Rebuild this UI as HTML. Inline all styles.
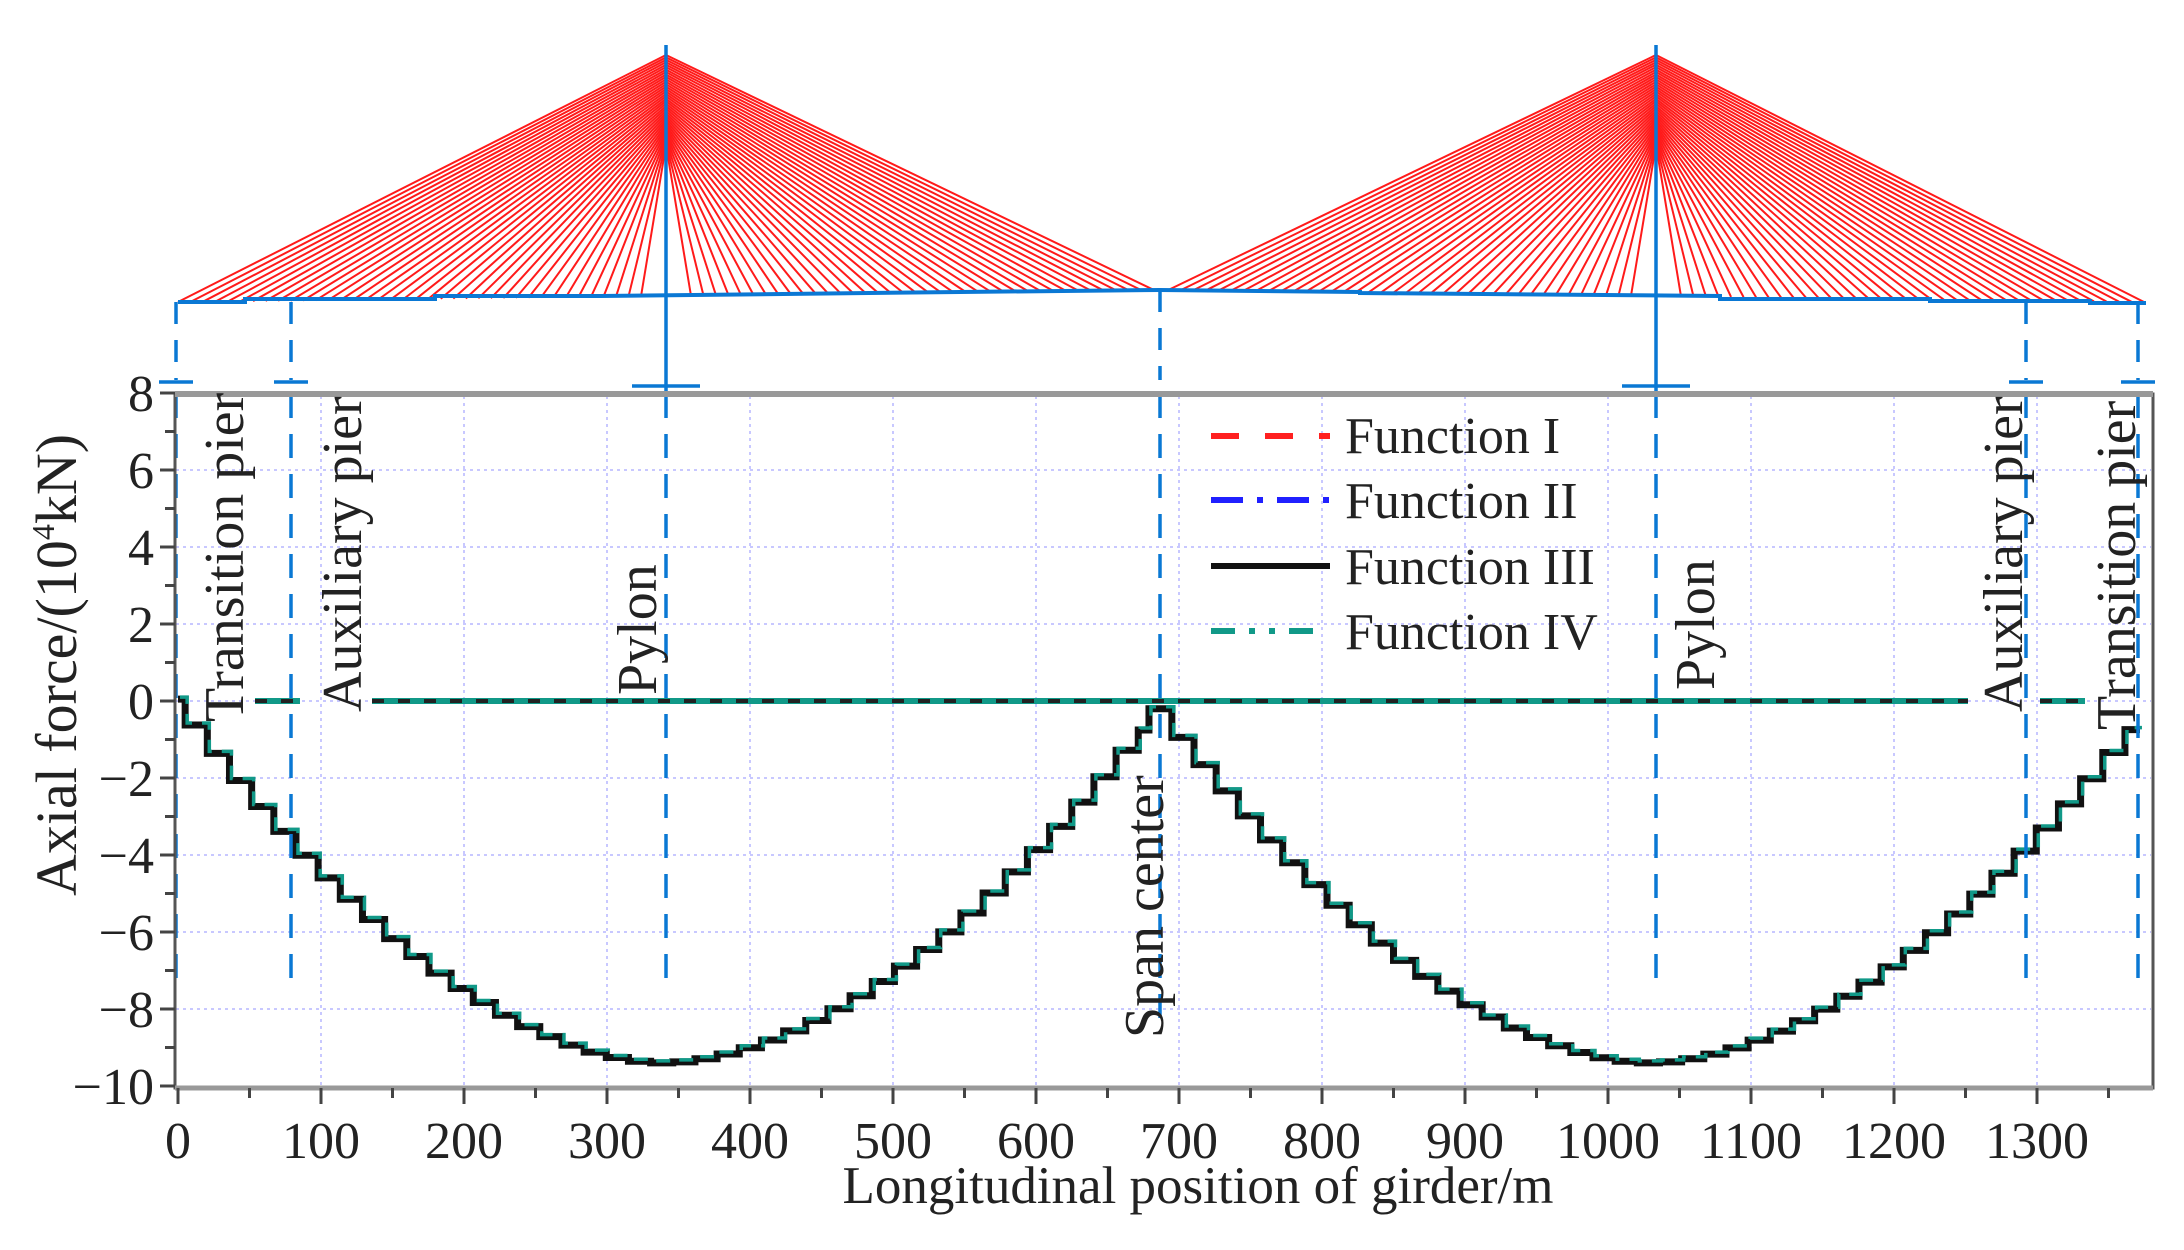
<!DOCTYPE html><html><head><meta charset="utf-8"><style>
html,body{margin:0;padding:0;background:#fff}
svg{display:block}
text{font-family:"Liberation Serif",serif;fill:#222}
</style></head><body>
<svg id="s" width="2184" height="1250" viewBox="0 0 2184 1250" xmlns="http://www.w3.org/2000/svg">
<g id="grid" stroke="#c8c8ff" stroke-width="2" stroke-dasharray="3,4"></g>
<g id="cables" stroke="#ff1a1a" stroke-width="2" fill="none"></g>
<g id="deck" stroke="#0a78d4" stroke-width="4" fill="none"></g>
<g id="curve"></g>
<g id="piers" stroke="#0a78d4" stroke-width="3.5" fill="none"></g>
<rect x="175" y="394" width="1978" height="694" fill="none" stroke="#555" stroke-width="3"/>
<line x1="175" y1="394" x2="2153" y2="394" stroke="#999" stroke-width="6"/>
<line x1="175" y1="1088" x2="2153" y2="1088" stroke="#999" stroke-width="5"/>
<g id="ticks" stroke="#444" stroke-width="3"></g>
<g id="labels" font-size="52"></g>
<g font-size="56">
<text transform="translate(243,722) rotate(-90)">Transition pier</text>
<text transform="translate(361,712) rotate(-90)">Auxiliary pier</text>
<text transform="translate(656,695) rotate(-90)">Pylon</text>
<text transform="translate(1163,1038) rotate(-90)">Span center</text>
<text transform="translate(1714,690) rotate(-90)">Pylon</text>
<text transform="translate(2022,712) rotate(-90)">Auxiliary pier</text>
<text transform="translate(2135,730) rotate(-90)">Transition pier</text>
</g>
<g font-size="52">
<line x1="1211" y1="436" x2="1330" y2="436" stroke="#ff2020" stroke-width="6" stroke-dasharray="28,26"/>
<line x1="1211" y1="500" x2="1330" y2="500" stroke="#2020ff" stroke-width="6" stroke-dasharray="32,14,6,14"/>
<line x1="1211" y1="566" x2="1330" y2="566" stroke="#111" stroke-width="6"/>
<line x1="1211" y1="631" x2="1318" y2="631" stroke="#119988" stroke-width="6" stroke-dasharray="24,14,6,14,6,14"/>
<text x="1345" y="453">Function I</text>
<text x="1345" y="518">Function II</text>
<text x="1345" y="584">Function III</text>
<text x="1345" y="649">Function IV</text>
</g>
<text x="1198" y="1203" font-size="53" text-anchor="middle">Longitudinal position of girder/m</text>
<text transform="translate(76,665) rotate(-90)" font-size="58" text-anchor="middle">Axial force/(10<tspan font-size="32" dy="-22">4</tspan><tspan dy="22">kN)</tspan></text>
</svg>
<script>
const NS="http://www.w3.org/2000/svg";
const X=m=>178+1.43*m, Y=v=>701-38.5*v;
function el(p,t,a){const e=document.createElementNS(NS,t);for(const k in a)e.setAttribute(k,a[k]);document.getElementById(p).appendChild(e);return e;}
for(let m=100;m<=1300;m+=100)el('grid','line',{x1:X(m),y1:396,x2:X(m),y2:1086});
for(let v=-8;v<=6;v+=2)el('grid','line',{x1:176,y1:Y(v),x2:2151,y2:Y(v)});
for(let m=0;m<=1350;m+=50){el('ticks','line',{x1:X(m),y1:1088,x2:X(m),y2:m%100?1098:1104});}
for(let m=0;m<=1300;m+=100){const t=el('labels','text',{x:X(m),y:1158,'text-anchor':'middle'});t.textContent=m;}
for(let v=-10;v<=8;v++){el('ticks','line',{x1:175,y1:Y(v),x2:v%2?165:160,y2:Y(v)});}
for(let v=-10;v<=8;v+=2){const t=el('labels','text',{x:154,y:Y(v)+18,'text-anchor':'end'});t.textContent=(v<0?'\u2212':'')+Math.abs(v);}
const deckY=x=>{const c=1160;return x<c?302-12*(x-178)/(c-178):290+12*(x-c)/(2146-c);};
let d='';
[[178,302],[245,302],[245,299],[435,299],[435,296],[600,296],[960,292],[1160,290],[1360,292],[1360,293],[1720,296],[1720,299],[1930,299],[1930,301],[2090,301],[2090,303],[2146,303]].forEach((p,i)=>d+=(i?'L':'M')+p[0]+','+p[1]);
el('deck','path',{d:d});
function fan(px){const n=38;
 for(let i=0;i<n;i++){const f=i/(n-1);
  const ay=55+f*90;
  const lx=px-488+f*(488-25), rx=px+488-f*(488-25);
  el('cables','line',{x1:px,y1:ay,x2:lx,y2:deckY(lx)});
  el('cables','line',{x1:px,y1:ay,x2:rx,y2:deckY(rx)});
 }}
fan(666);fan(1656);
function pier(x,top,bot,solid,notick){
 if(solid){el('piers','line',{x1:x,y1:45,x2:x,y2:394});}
 else el('piers','line',{x1:x,y1:top,x2:x,y2:380,'stroke-dasharray':'22,16'});
 el('piers','line',{x1:x,y1:394,x2:x,y2:bot,'stroke-dasharray':'24,16'});
 if(!notick){const w=solid?34:17; el('piers','line',{x1:x-w,y1:solid?386:382,x2:x+w,y2:solid?386:382});}
}
pier(176,302,985);pier(291,302,985);pier(666,0,985,true);pier(1160,290,1030,false,true);pier(1656,0,985,true);pier(2026,302,985);pier(2138,302,985);
const zs=[[255,300],[372,1968],[2040,2085]];
zs.forEach(s=>{el('curve','line',{x1:s[0],y1:701,x2:s[1],y2:701,stroke:'#119988','stroke-width':6});
 el('curve','line',{x1:s[0],y1:701,x2:s[1],y2:701,stroke:'#222','stroke-width':4,'stroke-dasharray':'12,14'});});
function val(m){
 const segs=[[0,340,0,-9.4],[340,687,-9.4,-0.2],[687,1030,-0.2,-9.4],[1030,1372,-9.4,-0.5]];
 for(const s of segs){if(m<=s[1]){const L=s[1]-s[0];
  if(s[3]<s[2]){const t=(m-s[0])/L;return s[2]+(s[3]-s[2])*(1-Math.pow(1-t,1.8));}
  else{const t=(s[1]-m)/L;return s[3]+(s[2]-s[3])*(1-Math.pow(1-t,1.8));}}}
 return -0.5;}
let p='M'+X(0)+','+Y(0.05)+'L'+X(5)+','+Y(0.05);
const st=15.5;
let edges=[5];
for(let m=5;m<679;m+=st)edges.push(m+st);
edges[edges.length-1]=679; edges.push(695);
for(let m=695;m<1372;m+=st)edges.push(Math.min(m+st,1372));
for(let i=0;i<edges.length-1;i++){
 const a=edges[i],b=edges[i+1];let v=val((a+b)/2);
 if(a>=679&&b<=695)v=-0.2;
 p+='L'+X(a)+','+Y(v)+'L'+X(b)+','+Y(v);
}
el('curve','path',{d:p,fill:'none',stroke:'#111','stroke-width':7});
el('curve','path',{d:p,fill:'none',stroke:'#119988','stroke-width':3.5,'stroke-dasharray':'14,10',transform:'translate(2,-2)'});
</script>
</body></html>
